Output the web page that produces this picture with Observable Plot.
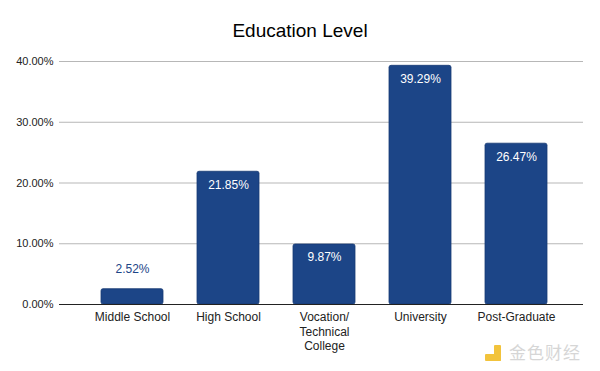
<!DOCTYPE html>
<html>
<head>
<meta charset="utf-8">
<script src="https://cdn.jsdelivr.net/npm/d3@7"></script>
<script src="https://cdn.jsdelivr.net/npm/@observablehq/plot@0.6"></script>
<style>
  body { margin: 0; background: #fff; font-family: "Liberation Sans", Arial, sans-serif; }
  #wrap { position: relative; width: 600px; height: 371px; overflow: hidden; }
  #title { height: 48px; line-height: 62px; text-align: center; font-size: 19px; color: #000; }
  #wm { position: absolute; left: 509px; top: 339px; font-family: "Noto Sans CJK SC", sans-serif; font-size: 17px; color: #d6d6d6; letter-spacing: 1px; }
  #logo { position: absolute; left: 485px; top: 345px; width: 16px; height: 16px; }
  #logo .a { position: absolute; left: 0; top: 9px; width: 16px; height: 7px; background: #f2c33c; border-radius: 1px; }
  #logo .b { position: absolute; left: 9px; top: 0px; width: 7px; height: 16px; background: #f2c33c; border-radius: 1px; }
</style>
</head>
<body>
<div id="wrap">
  <div id="title">Education Level</div>
  <div id="chart"></div>
  <div id="logo"><div class="a"></div><div class="b"></div></div>
  <div id="wm">金色财经</div>
</div>
<script>
const categories = ["Middle School", "High School", "Vocation/\nTechnical\nCollege", "University", "Post-Graduate"];
const values = [0.0252, 0.2185, 0.0987, 0.3929, 0.2647];
const yTicks = [0, 0.1, 0.2, 0.3, 0.4];

const data = categories.map((c, i) => ({category: c, value: values[i]}));
const inside = data.filter(d => d.value >= 0.05);
const outside = data.filter(d => d.value < 0.05);
const pct = d3.format(".2%");
const barColor = "#1c4587";

const chart = Plot.plot({
  width: 600,
  height: 323,
  marginLeft: 59,
  marginRight: 17,
  marginTop: 13,
  marginBottom: 67,
  style: { fontFamily: "Liberation Sans, Arial, sans-serif", fontSize: "11px", color: "#222" },
  x: { domain: categories, paddingInner: 0.35, paddingOuter: 0.175, insetLeft: 25, insetRight: 19 },
  y: { domain: [0, 0.4] },
  marks: [
    Plot.axisY({ ticks: yTicks, tickFormat: pct, label: null, tickSize: 0, tickPadding: 6, fontSize: 11 }),
    Plot.axisX({ label: null, tickSize: 0, tickPadding: 7, fontSize: 12, lineHeight: 1.17 }),
    Plot.ruleY(yTicks.filter(t => t > 0), { stroke: "#b7b7b7", strokeOpacity: 1 }),
    Plot.barY(data, { x: "category", y: "value", fill: barColor, stroke: "#163a74", strokeWidth: 0.8, rx: 2 }),
    Plot.ruleY([0], { stroke: "#222", strokeWidth: 1 }),
    Plot.text(inside, { x: "category", y: "value", text: d => pct(d.value), dy: 13, fill: "#fff", fontSize: 12 }),
    Plot.text(outside, { x: "category", y: "value", text: d => pct(d.value), dy: -20, fill: barColor, fontSize: 12 })
  ]
});
document.getElementById("chart").appendChild(chart);
</script>
</body>
</html>
